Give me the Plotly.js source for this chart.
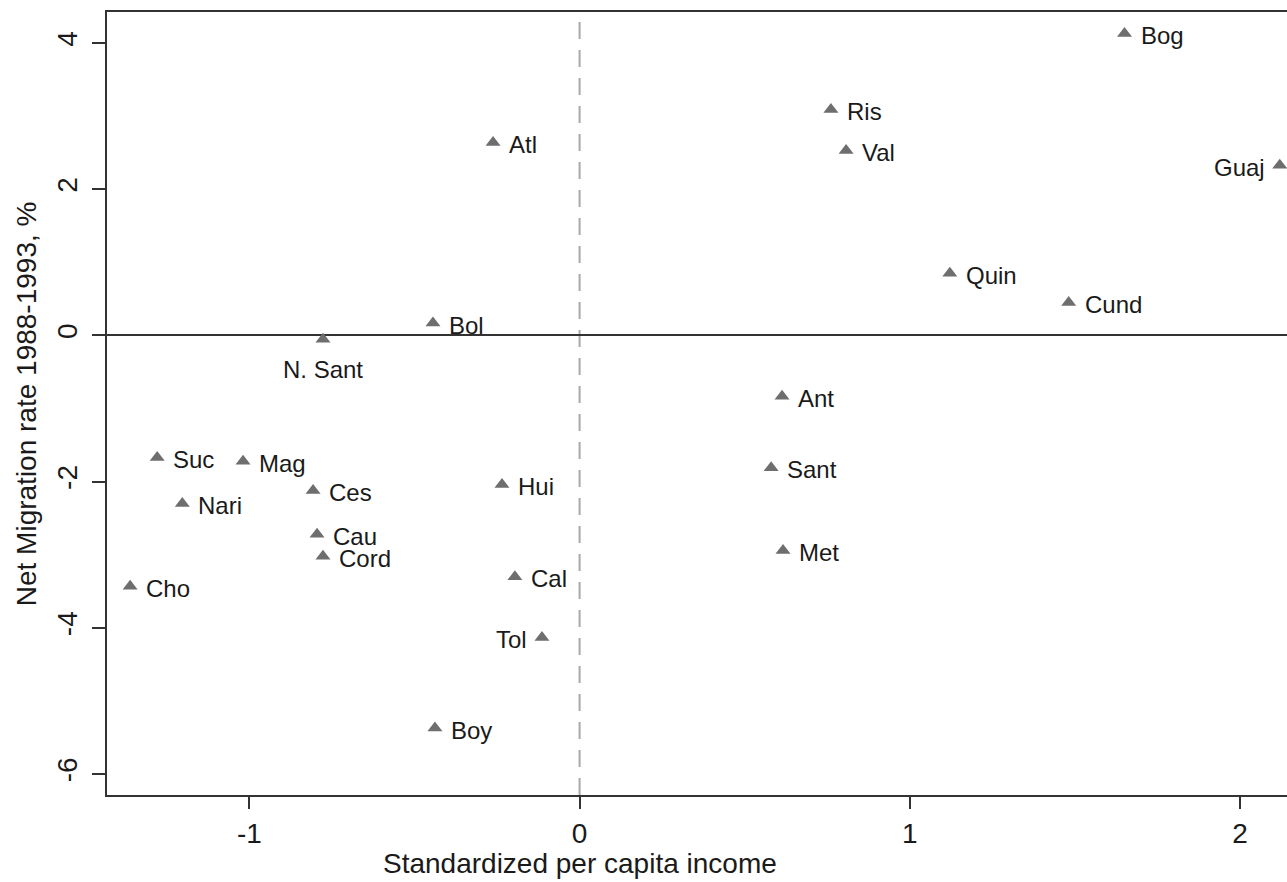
<!DOCTYPE html>
<html>
<head>
<meta charset="utf-8">
<script src="https://cdn.plot.ly/plotly-3.0.1.min.js"></script>
<style>
html,body{margin:0;padding:0;background:#fff;}
#chart{width:1287px;height:882px;}
</style>
</head>
<body>
<div id="chart"></div>
<script>
// Departments (abbreviated labels)
const departments = ["Bog","Ris","Val","Guaj","Quin","Cund","Atl","Bol","N. Sant","Suc","Mag","Ces","Nari","Cau","Cord","Cho","Hui","Cal","Tol","Boy","Ant","Sant","Met"];
// Standardized per capita income
const income = [1.650,0.761,0.807,2.120,1.121,1.481,-0.262,-0.444,-0.777,-1.279,-1.019,-0.807,-1.203,-0.795,-0.777,-1.361,-0.235,-0.196,-0.114,-0.438,0.613,0.580,0.616];
// Net migration rate 1988-1993, %
const migration = [4.13,3.09,2.53,2.33,0.85,0.45,2.64,0.17,-0.05,-1.67,-1.72,-2.12,-2.30,-2.72,-3.02,-3.43,-2.04,-3.30,-4.13,-5.37,-0.83,-1.81,-2.94];
// Label placement relative to marker: r = right, l = left, b = below
const labelPos = ["r","r","r","l","r","r","r","r","b","r","r","r","r","r","r","r","r","r","l","r","r","r","r"];

const FONT = "Liberation Sans, Arial, Helvetica, sans-serif";

const annotations = departments.map((name, i) => {
  const p = labelPos[i];
  const a = {
    x: income[i], y: migration[i], xref: "x", yref: "y",
    text: name, showarrow: false,
    font: {family: FONT, size: 24, color: "#1a1a1a"},
    yanchor: "middle", yshift: -2
  };
  if (p === "r") { a.xanchor = "left"; a.xshift = 14; }
  else if (p === "l") { a.xanchor = "right"; a.xshift = -13; }
  else { a.xanchor = "center"; a.yshift = -30; }
  return a;
});

annotations.push({
  xref: "x", yref: "paper", x: 0, y: -0.087,
  text: "Standardized per capita income", showarrow: false,
  xanchor: "center", yanchor: "middle",
  font: {family: FONT, size: 28, color: "#1a1a1a"}
});
annotations.push({
  xref: "paper", yref: "paper", x: -0.068, y: 0.5,
  text: "Net Migration rate 1988-1993, %", showarrow: false, textangle: -90,
  xanchor: "center", yanchor: "middle",
  font: {family: FONT, size: 28, color: "#1a1a1a"}
});

const trace = {
  type: "scatter", mode: "markers",
  x: income, y: migration, text: departments,
  marker: {symbol: "triangle-up", size: 13, color: "#6e6e6e"},
  hoverinfo: "text"
};

const layout = {
  width: 1287, height: 882,
  margin: {l: 107, r: 0, t: 12, b: 87},
  paper_bgcolor: "#fff", plot_bgcolor: "#fff",
  showlegend: false,
  font: {family: FONT, color: "#1a1a1a"},
  xaxis: {
    range: [-1.431, 2.142],
    tickvals: [-1, 0, 1, 2], ticktext: ["-1", "0", "1", "2"],
    ticks: "outside", ticklen: 12, tickwidth: 2, tickcolor: "#333",
    showline: true, linecolor: "#333", linewidth: 2, mirror: true,
    showgrid: false, zeroline: false,
    tickfont: {family: FONT, size: 28, color: "#1a1a1a"}
  },
  yaxis: {
    range: [-6.286, 4.425],
    tickvals: [-6, -4, -2, 0, 2, 4], ticktext: ["-6", "-4", "-2", "0", "2", "4"],
    tickangle: -90, ticklabelstandoff: 4,
    ticks: "outside", ticklen: 13, tickwidth: 2, tickcolor: "#333",
    showline: true, linecolor: "#333", linewidth: 2,
    showgrid: false,
    zeroline: true, zerolinecolor: "#333", zerolinewidth: 2,
    tickfont: {family: FONT, size: 28, color: "#1a1a1a"}
  },
  shapes: [{
    type: "line", xref: "x", yref: "paper", x0: 0, x1: 0, y0: 0, y1: 1,
    line: {color: "#a8a8a8", width: 2, dash: "17px,11px"}, layer: "below"
  }],
  annotations: annotations
};

Plotly.newPlot("chart", [trace], layout, {displayModeBar: false, staticPlot: true});
</script>
</body>
</html>
